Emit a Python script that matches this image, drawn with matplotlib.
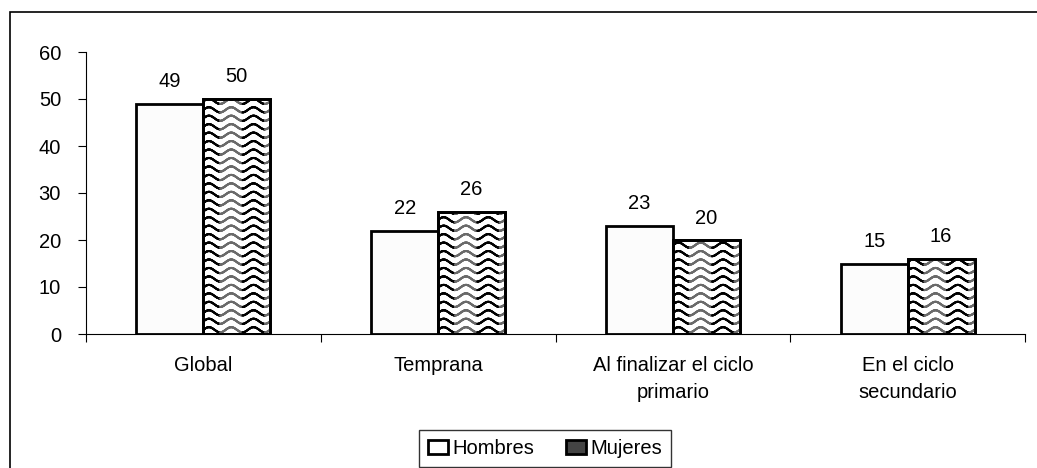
import numpy as np
import matplotlib
matplotlib.use("Agg")
import matplotlib.pyplot as plt
from matplotlib.patches import Rectangle, Patch
from matplotlib.collections import LineCollection

plt.rcParams['font.family'] = ['Liberation Sans', 'DejaVu Sans']

categories = ["Global", "Temprana", "Al finalizar el ciclo\nprimario", "En el ciclo\nsecundario"]
hombres = [49, 22, 23, 15]
mujeres = [50, 26, 20, 16]
series_names = ["Hombres", "Mujeres"]

FS = 14.5
W, H = 1037, 468
fig = plt.figure(figsize=(W / 100, H / 100), dpi=100)
ax = fig.add_axes([86 / W, 1 - 334 / H, (1025 - 86) / W, (334 - 52) / H])

x = np.arange(len(categories))
bw = 0.285
b1 = ax.bar(x - bw / 2, hombres, bw, color="#fcfcfc", edgecolor="black", linewidth=2, zorder=3)
b2 = ax.bar(x + bw / 2, mujeres, bw, color="white", edgecolor="black", linewidth=2, zorder=3)

# wavy pattern inside Mujeres bars
for rect in b2:
    x0, w, h = rect.get_x(), rect.get_width(), rect.get_height()
    xs = np.linspace(x0, x0 + w, 240)
    period = w / 3.0
    amp = 0.55
    step = 1.8
    blocks = np.floor((xs[:-1] - x0 + period / 4) / period).astype(int)
    cols = np.where(blocks % 2 == 0, "#000000", "#6a6a6a")
    yy = step / 2
    while yy < h + step:
        ys = yy + amp * np.sin(2 * np.pi * (xs - x0) / period)
        pts = np.column_stack([xs, ys])
        segs = np.stack([pts[:-1], pts[1:]], axis=1)
        lc = LineCollection(segs, colors=cols, linewidths=1.5, zorder=3.5, capstyle="round")
        ax.add_collection(lc, autolim=False)
        lc.set_clip_path(rect)
        yy += step
    ax.add_patch(Rectangle((x0, 0), w, h, fill=False, edgecolor="black", lw=2, zorder=4))

for rects, vals in ((b1, hombres), (b2, mujeres)):
    for r, v in zip(rects, vals):
        ax.annotate(str(v), (r.get_x() + r.get_width() / 2, v), xytext=(0, 9),
                    textcoords="offset points", ha="center", va="bottom", fontsize=FS)

ax.set_xlim(-0.5, len(categories) - 0.5)
ax.set_ylim(0, 60)
ax.set_yticks(range(0, 61, 10))
ax.set_xticks(x)
ax.set_xticklabels(categories, fontsize=FS, linespacing=1.5)
ax.set_xticks(np.arange(-0.5, len(categories), 1.0), minor=True)
ax.tick_params(axis="x", which="major", length=0, pad=16)
ax.tick_params(axis="x", which="minor", length=6, width=0.8, direction="out")
ax.tick_params(axis="y", length=6, width=0.8, pad=12, labelsize=FS)
for s in ("top", "right"):
    ax.spines[s].set_visible(False)
for s in ("left", "bottom"):
    ax.spines[s].set_linewidth(0.8)

handles = [Patch(facecolor="white", edgecolor="black", lw=2),
           Patch(facecolor="#444444", edgecolor="black", lw=2)]
leg = fig.legend(handles, series_names, loc="lower left",
                 bbox_to_anchor=(419 / W, 1.0 / H), ncol=2, fontsize=FS,
                 frameon=True, fancybox=False, edgecolor="black", handlelength=1.0,
                 handleheight=0.7, handletextpad=0.2, columnspacing=1.6,
                 borderpad=0.45, borderaxespad=0)
leg.get_frame().set_linewidth(1.0)

fig.patches.append(Rectangle((10 / W, -0.2), 1.2, 1.2 - 12 / H, transform=fig.transFigure,
                             fill=False, edgecolor="black", lw=1.2))

fig.savefig("out.png", dpi=100)
